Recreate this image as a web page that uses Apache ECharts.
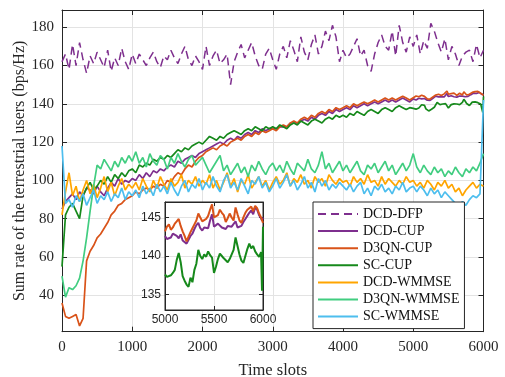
<!DOCTYPE html>
<html>
<head>
<meta charset="utf-8">
<script src="https://cdn.jsdelivr.net/npm/echarts@6/dist/echarts.min.js"></script>
<style>
  html, body { margin: 0; padding: 0; background: #fff; }
  #chart { width: 505px; height: 377px; }
</style>
</head>
<body>
<div id="chart"></div>
<script>
// Time slots of the full run (every 50 slots) and of the zoomed window.
const timeSlots = [];
for (let t = 0; t <= 6000; t += 50) timeSlots.push(t);
const zoomSlots = [];
for (let t = 5000; t <= 5980; t += 20) zoomSlots.push(t);
zoomSlots.push(5990, 6000);

const yTicks = [40, 60, 80, 100, 120, 140, 160, 180];
const zoomYTicks = [135, 140, 145];

// Sum rate (bps/Hz), sampled every 50 slots from 0 to 6000.
const dcdDfp = [
  162, 166, 158, 171, 160, 172, 163, 156, 165, 161, 167, 163, 159, 168, 157, 164, 160, 169, 162, 158, 166,
  161, 166, 163, 160, 164, 167, 162, 159, 165, 163, 168, 164, 161, 166, 170, 163, 160, 165, 162, 158,
  170, 160, 165, 168, 161, 163, 166, 150, 162, 167, 171, 164, 168, 172, 165, 160, 158, 166, 169, 163,
  158, 166, 170, 164, 173, 168, 162, 175, 167, 163, 171, 176, 166, 170, 178, 173, 181, 175, 162, 168,
  164, 166, 170, 174, 165, 168, 160, 157, 166, 172, 176, 170, 168, 178, 165, 181, 172, 167, 175, 170,
  176, 166, 173, 169, 182, 178, 172, 167, 174, 163, 170, 166, 160, 165, 167, 168, 162, 171, 164, 168
];
const dcdWmmse = [
  82,
  94, 104, 92, 97, 89, 95, 100, 93, 98, 91, 96, 102, 94, 99, 92, 97, 101, 95, 98, 96,
  99, 95, 101, 97, 94, 100, 96, 102, 98, 95, 101, 97, 99, 103, 96, 100, 98, 102, 97, 100,
  98, 103, 96, 100, 95, 99, 104, 97, 101, 94, 100, 98, 103, 96, 99, 102, 97, 100, 95, 99,
  102, 98, 100, 104, 97, 101, 99, 103, 98, 100, 96, 102, 99, 101, 97, 103, 100, 98, 101, 99,
  100, 97, 102, 99, 101, 98, 103, 99, 100, 97, 102, 98, 101, 99, 97, 100, 98, 102, 99, 100,
  97, 99, 96, 100, 98, 95, 99, 97, 100, 96, 98, 94, 96, 92, 95, 97, 99, 96, 98, 97
];
const d3qnWmmse = [
  50,
  39, 44, 43, 45, 49, 58, 70, 84, 97, 108, 106, 111, 108, 105, 110, 107, 112, 109, 113, 110,
  115, 109, 112, 107, 114, 110, 108, 113, 111, 106, 112, 109, 114, 110, 107, 111, 113, 108, 110, 112,
  108, 104, 107, 110, 113, 105, 108, 103, 106, 109, 104, 107, 102, 108, 105, 110, 106, 103, 107, 109,
  105, 108, 104, 110, 106, 103, 109, 107, 105, 111, 106, 104, 108, 115, 106, 109, 104, 107, 110, 105,
  108, 104, 107, 110, 105, 103, 108, 106, 109, 104, 107, 110, 105, 108, 103, 106, 109, 105, 108, 114,
  107, 104, 108, 105, 103, 107, 104, 106, 102, 105, 103, 107, 104, 102, 106, 104, 107, 105, 109, 114
];
const scWmmse = [
  118,
  88, 90, 86, 92, 89, 93, 87, 91, 95, 88, 92, 90, 94, 89, 93, 91, 96, 90, 94, 92,
  95, 91, 97, 93, 96, 92, 98, 94, 97, 93, 99, 95, 92, 97, 100, 94, 98, 96, 101, 95,
  99, 96, 102, 97, 94, 100, 103, 96, 99, 95, 101, 97, 93, 100, 98, 102, 96, 99, 94, 97,
  101, 96, 99, 103, 97, 100, 95, 98, 102, 96, 99, 94, 101, 97, 100, 95, 98, 96, 99, 97,
  95, 98, 94, 97, 99, 93, 96, 92, 97, 95, 98, 94, 96, 93, 97, 95, 99, 94, 96, 97,
  94, 97, 95, 92, 96, 93, 95, 91, 94, 92, 90, 88, 86, 89, 87, 90, 92, 91, 93, 142
];

// CUP schemes: every 50 slots from 0 to 4950 ...
const dcdCupEarly = [
  85, 89, 91, 93, 90, 94, 92, 96, 95, 93, 97, 94, 92, 96, 99, 97, 101, 98, 100, 99,
  101, 100, 103, 101, 104, 102, 105, 104, 106, 105, 107, 108, 107, 110, 109, 111, 112, 113, 112, 114,
  115, 116, 117, 118, 119, 120, 119, 121, 122, 121, 123, 122, 124, 125, 124, 126, 125, 127, 126, 127,
  127, 127, 128, 128, 128, 130, 130, 130, 131, 132, 131, 133, 132, 134, 135, 134, 136, 135, 137, 136,
  137, 138, 137, 139, 138, 139, 140, 139, 140, 141, 140, 141, 142, 141, 142, 141, 142, 143, 142, 141
];
const d3qnCupEarly = [
  36, 29, 28, 29, 30, 24, 28, 58, 63, 66, 70, 72, 75, 78, 82, 84, 87, 88, 90, 91,
  92, 94, 93, 95, 96, 95, 97, 96, 98, 97, 100, 99, 102, 104, 103, 106, 108, 107, 110, 112,
  113, 115, 116, 117, 116, 118, 119, 118, 120, 121, 122, 121, 123, 124, 123, 125, 124, 126, 125, 126,
  127, 126, 128, 129, 128, 130, 131, 130, 132, 133, 132, 134, 133, 135, 136, 135, 137, 136, 138, 137,
  138, 139, 138, 140, 139, 140, 141, 140, 141, 142, 141, 142, 143, 142, 143, 142, 143, 144, 143, 142
];
const scCupEarly = [
  55, 82, 86, 88, 84, 80, 92, 96, 99, 95, 97, 100, 98, 102, 99, 103, 101, 104, 102, 105,
  106, 104, 108, 107, 109, 108, 111, 110, 112, 111, 113, 112, 114, 116, 115, 117, 116, 118, 119, 120,
  119, 121, 123, 122, 121, 123, 122, 124, 125, 126, 125, 124, 126, 127, 126, 128, 127, 126, 128, 127,
  128, 127, 129, 128, 127, 129, 130, 129, 131, 130, 129, 131, 132, 131, 130, 132, 133, 132, 134, 133,
  134, 133, 135, 134, 136, 135, 134, 136, 137, 136, 135, 137, 138, 137, 136, 138, 139, 138, 137, 138
];
// ... and every 20 slots from 5000 to 6000 (zoomed window).
const dcdCupLate = [
  142.6, 142.2, 142.0, 142.4, 142.9, 143.1, 142.6, 142.3, 142.8, 142.0,
  141.9, 141.6, 141.8, 142.6, 142.9, 143.5, 144.0, 144.3, 143.6, 143.3,
  143.7, 143.9, 143.6, 144.6, 145.4, 143.8, 143.6, 144.2, 144.0, 143.7,
  143.9, 143.5, 143.9, 144.1, 143.8, 144.0, 144.5, 143.7, 143.5, 143.9,
  144.4, 144.8, 145.2, 145.6, 145.9, 145.4, 146.3, 146.0, 145.3, 144.9,
  144.6, 145.0
];
const d3qnCupLate = [
  143.2, 143.8, 144.1, 143.4, 143.7, 144.2, 144.5, 144.8, 143.9, 143.2,
  142.6, 141.9, 142.5, 143.1, 143.6, 144.1, 144.6, 145.5, 145.0, 144.5,
  144.3, 144.8, 145.2, 146.0, 146.7, 145.0, 144.8, 145.3, 146.0, 145.6,
  145.3, 144.4, 144.9, 145.5, 145.0, 144.6, 146.3, 145.4, 144.6, 144.3,
  145.0, 145.6, 146.0, 146.2, 146.4, 145.8, 146.5, 146.2, 145.5, 145.0,
  144.8, 144.3
];
const scCupLate = [
  137.6, 137.3, 137.2, 137.5, 137.8, 138.2, 139.5, 140.4, 139.2, 137.4,
  136.8, 136.3, 136.0, 137.2, 136.6, 138.2, 139.0, 140.8, 140.0, 139.6,
  140.2, 139.9, 140.6, 140.1, 139.8, 137.8, 138.6, 139.6, 140.3, 140.0,
  139.7, 139.9, 139.2, 139.6, 139.4, 140.8, 142.4, 141.3, 140.2, 139.4,
  139.1, 140.0, 140.9, 141.6, 141.0, 141.3, 140.6, 140.2, 139.9, 140.5,
  135.5, 143.8
];

const COLORS = {
  purple: '#7E2F8E', red: '#D95319', green: '#16891B',
  orange: '#FFA500', mint: '#41CD80', sky: '#4DBEEE'
};
const AXIS = '#262626';
const GRID = '#e3e3e3';
const SERIF = 'Liberation Serif, Times New Roman, serif';
const SANS = 'Liberation Sans, Arial, sans-serif';

const pair = (xs, ys) => ys.map((v, i) => [xs[i], v]);
const full = (early, late) => pair(timeSlots, early).concat(pair(zoomSlots, late));

function line(name, color, data, extra) {
  return Object.assign({
    name, type: 'line', data, symbol: 'none', showSymbol: false,
    xAxisIndex: 0, yAxisIndex: 0, z: 2,
    lineStyle: { color, width: 1.7 }, itemStyle: { color },
    animation: false
  }, extra || {});
}
function zoomLine(name, color, data) {
  return line(name, color, data, { xAxisIndex: 2, yAxisIndex: 2, z: 7, lineStyle: { color, width: 2 } });
}

const names = ['DCD-DFP', 'DCD-CUP', 'D3QN-CUP', 'SC-CUP', 'DCD-WMMSE', 'D3QN-WMMSE', 'SC-WMMSE'];
const plain = v => String(v);

const chart = echarts.init(document.getElementById('chart'), null, { renderer: 'canvas' });
chart.setOption({
  animation: false,
  backgroundColor: '#fff',
  grid: [
    { left: 62, right: 21.5, top: 10, bottom: 45.3, containLabel: false, outerBoundsMode: 'none' },
    { left: 165, top: 202, width: 98, height: 108, show: true, backgroundColor: '#fff',
      borderColor: AXIS, borderWidth: 1, z: 5, containLabel: false, outerBoundsMode: 'none' }
  ],
  xAxis: [
    { type: 'value', gridIndex: 0, min: 0, max: 6000, interval: 1000,
      name: 'Time slots', nameLocation: 'middle', nameGap: 30, nameMoveOverlap: false,
      nameTextStyle: { fontFamily: SERIF, fontSize: 16.5, color: AXIS },
      axisLine: { show: true, onZero: false, lineStyle: { color: AXIS, width: 1 } },
      axisTick: { show: true, inside: true, length: 5, lineStyle: { color: AXIS } },
      axisLabel: { fontFamily: SERIF, fontSize: 15, color: AXIS, margin: 8, formatter: plain },
      splitLine: { show: true, lineStyle: { color: GRID, width: 1 } } },
    { type: 'value', gridIndex: 0, position: 'top', min: 0, max: 6000, interval: 1000,
      axisLine: { show: true, onZero: false, lineStyle: { color: AXIS, width: 1 } },
      axisTick: { show: true, inside: true, length: 5, lineStyle: { color: AXIS } },
      axisLabel: { show: false }, splitLine: { show: false } },
    { type: 'value', gridIndex: 1, min: 5000, max: 6000, interval: 500, z: 6,
      axisLine: { show: true, onZero: false, lineStyle: { color: AXIS, width: 1 } },
      axisTick: { show: true, inside: true, length: 4, lineStyle: { color: AXIS } },
      axisLabel: { fontFamily: SANS, fontSize: 12, color: AXIS, margin: 4, formatter: plain },
      splitLine: { show: true, lineStyle: { color: GRID, width: 1 } } },
    { type: 'value', gridIndex: 1, position: 'top', min: 5000, max: 6000, interval: 500, z: 6,
      axisLine: { show: true, onZero: false, lineStyle: { color: AXIS, width: 1 } },
      axisTick: { show: true, inside: true, length: 4, lineStyle: { color: AXIS } },
      axisLabel: { show: false }, splitLine: { show: false } }
  ],
  yAxis: [
    { type: 'value', gridIndex: 0, min: 21, max: 189,
      name: 'Sum rate of the terrestrial users (bps/Hz)', nameLocation: 'middle', nameGap: 34,
      nameMoveOverlap: false,
      nameTextStyle: { fontFamily: SERIF, fontSize: 16, color: AXIS },
      axisLine: { show: true, onZero: false, lineStyle: { color: AXIS, width: 1 } },
      axisTick: { show: true, inside: true, length: 5, customValues: yTicks, lineStyle: { color: AXIS } },
      axisLabel: { fontFamily: SERIF, fontSize: 15, color: AXIS, margin: 8, customValues: yTicks, formatter: plain },
      splitLine: { show: true, lineStyle: { color: GRID, width: 1 } } },
    { type: 'value', gridIndex: 0, position: 'right', min: 21, max: 189,
      axisLine: { show: true, onZero: false, lineStyle: { color: AXIS, width: 1 } },
      axisTick: { show: true, inside: true, length: 5, customValues: yTicks, lineStyle: { color: AXIS } },
      axisLabel: { show: false }, splitLine: { show: false } },
    { type: 'value', gridIndex: 1, min: 133, max: 147, z: 6,
      axisLine: { show: true, onZero: false, lineStyle: { color: AXIS, width: 1 } },
      axisTick: { show: true, inside: true, length: 4, customValues: zoomYTicks, lineStyle: { color: AXIS } },
      axisLabel: { fontFamily: SANS, fontSize: 12, color: AXIS, margin: 4, customValues: zoomYTicks, formatter: plain },
      splitLine: { show: true, lineStyle: { color: GRID, width: 1 } } },
    { type: 'value', gridIndex: 1, position: 'right', min: 133, max: 147, z: 6,
      axisLine: { show: true, onZero: false, lineStyle: { color: AXIS, width: 1 } },
      axisTick: { show: true, inside: true, length: 4, customValues: zoomYTicks, lineStyle: { color: AXIS } },
      axisLabel: { show: false }, splitLine: { show: false } }
  ],
  legend: {
    data: names, orient: 'vertical', left: 313, top: 202, z: 10,
    itemWidth: 40, itemHeight: 12, itemGap: 3.1,
    padding: [5, 5, 5, 4],
    itemStyle: { opacity: 0, borderWidth: 0 },
    backgroundColor: '#fff', borderColor: AXIS, borderWidth: 1, borderRadius: 0,
    textStyle: { fontFamily: SERIF, fontSize: 14, color: '#111' }
  },
  series: [
    line('DCD-DFP', COLORS.purple, pair(timeSlots, dcdDfp),
      { lineStyle: { color: COLORS.purple, width: 1.5, type: [8, 5] } }),
    line('DCD-CUP', COLORS.purple, full(dcdCupEarly, dcdCupLate)),
    line('D3QN-CUP', COLORS.red, full(d3qnCupEarly, d3qnCupLate)),
    line('SC-CUP', COLORS.green, full(scCupEarly, scCupLate)),
    line('DCD-WMMSE', COLORS.orange, pair(timeSlots, dcdWmmse)),
    line('D3QN-WMMSE', COLORS.mint, pair(timeSlots, d3qnWmmse)),
    line('SC-WMMSE', COLORS.sky, pair(timeSlots, scWmmse)),
    zoomLine('DCD-CUP', COLORS.purple, pair(zoomSlots, dcdCupLate)),
    zoomLine('D3QN-CUP', COLORS.red, pair(zoomSlots, d3qnCupLate)),
    zoomLine('SC-CUP', COLORS.green, pair(zoomSlots, scCupLate))
  ]
});
</script>
</body>
</html>
